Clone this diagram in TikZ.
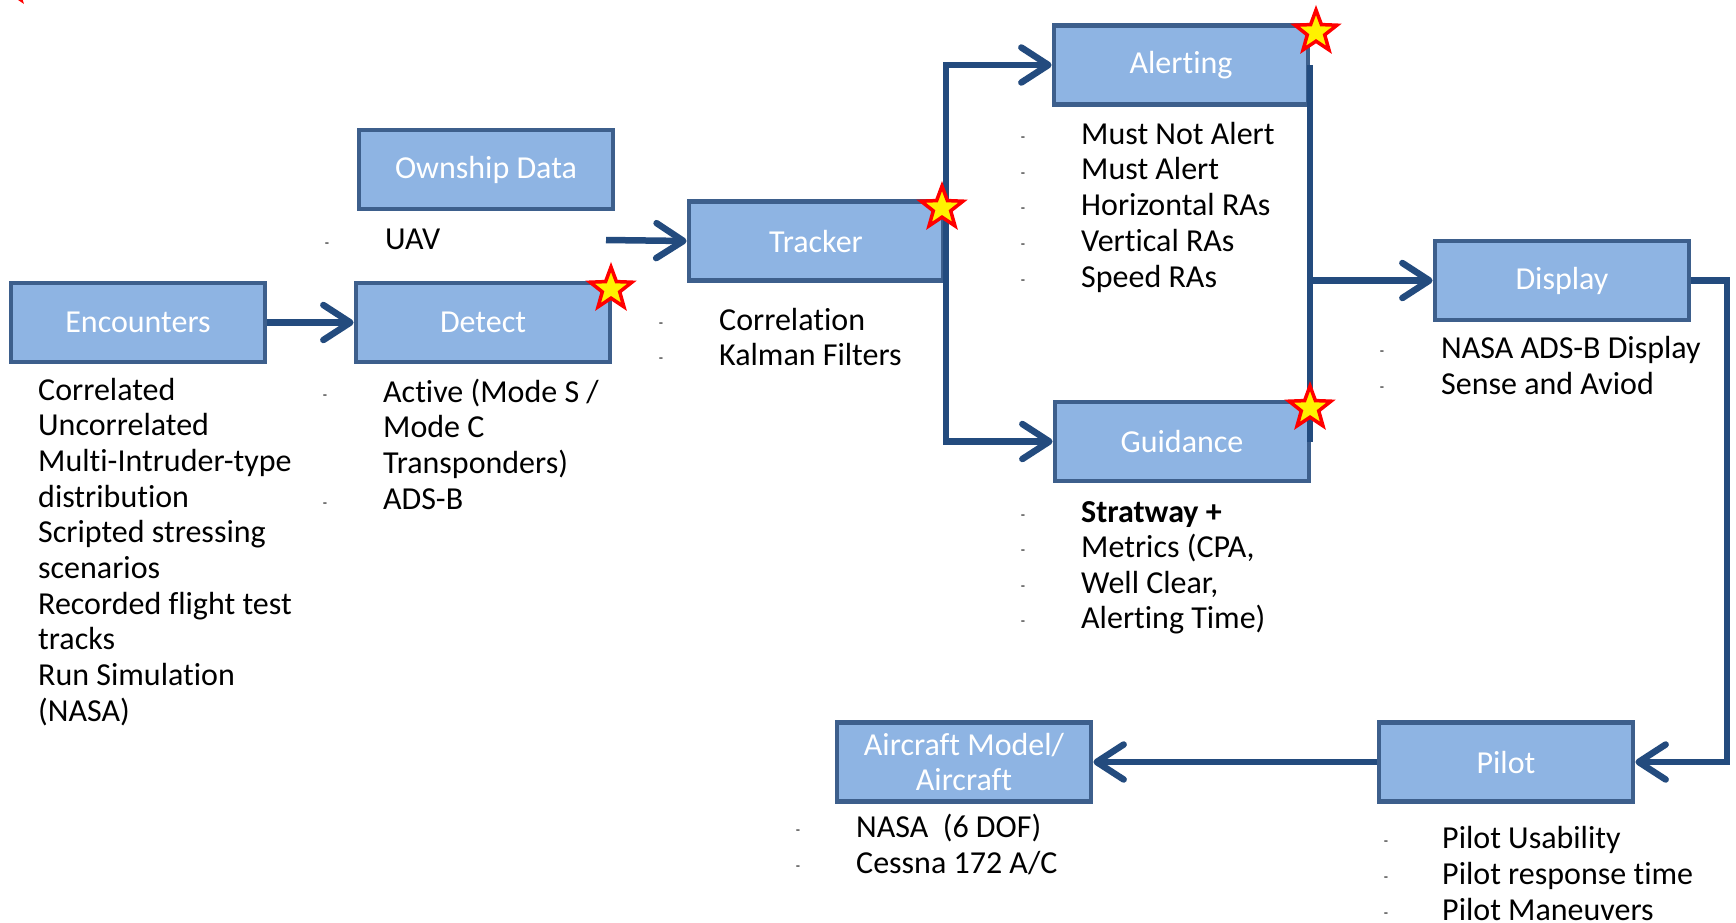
\documentclass[tikz,border=0pt]{standalone}
\usepackage{fontspec}
\setmainfont{Carlito}[Ligatures=NoCommon]
\usetikzlibrary{arrows.meta,shapes.geometric}
\definecolor{boxfill}{HTML}{8EB4E3}
\definecolor{boxline}{HTML}{3D5F8C}
\definecolor{arrowblue}{HTML}{234B7E}
\begin{document}
\begin{tikzpicture}[x=1pt,y=-1pt,
 box/.style={draw=boxline, fill=boxfill, line width=4.8pt, minimum width=254pt, minimum height=79pt, inner sep=0pt, text=white, font=\fontsize{32}{35.5}\selectfont, align=center},
 lst/.style={anchor=base west, inner sep=0pt, font=\fontsize{32}{35.7}\selectfont},
 bul/.style={inner sep=0pt, font=\fontsize{14}{14}\selectfont},
 conn/.style={draw=arrowblue, line width=6.5pt},
 arr/.style={conn, -{Straight Barb[length=27pt,width=35pt,round]}},
 starmark/.style={star, star points=5, star point ratio=2.4, minimum size=44pt, inner sep=0pt, fill=yellow, draw=red, line width=3.5pt}]
\useasboundingbox (0,0) rectangle (1736,922);
\fill[white] (0,0) rectangle (1736,922);

% boxes
\node[box] (enc) at (138,322.5) {Encounters};
\node[box] (own) at (486,169.5) {Ownship Data};
\node[box] (det) at (483,322.5) {Detect};
\node[box] (trk) at (816,241) {Tracker};
\node[box] (alr) at (1181,65) {Alerting};
\node[box] (gui) at (1182,441.5) {Guidance};
\node[box] (dsp) at (1562,280.5) {Display};
\node[box] (plt) at (1506,762) {Pilot};
\node[box] (acm) at (964,762) {Aircraft Model/\\Aircraft};

% lists
\foreach \t [count=\i] in {Correlated, Uncorrelated, Multi-Intruder-type, distribution, Scripted stressing, scenarios, Recorded flight test, tracks, Run Simulation, (NASA)}
  \node[lst] (encl\i) at (38,{400+35.7*(\i-1)}) {\t};

\node[bul] (ownb1) at (327,245) {-};
\node[lst] (ownl1) at (385,249) {UAV};

\node[bul] (detb1) at (325,397) {-};
\node[bul] (detb4) at (325,505) {-};
\foreach \t [count=\i] in {Active (Mode S /, Mode C, Transponders), ADS-B}
  \node[lst] (detl\i) at (383,{402+35.7*(\i-1)}) {\t};

\foreach \t [count=\i] in {Correlation, Kalman Filters}{
  \node[bul] (trkb\i) at (661,{325+35.7*(\i-1)}) {-};
  \node[lst] (trkl\i) at (719,{330+35.7*(\i-1)}) {\t};
}

\foreach \t [count=\i] in {Must Not Alert, Must Alert, Horizontal RAs, Vertical RAs, Speed RAs}{
  \node[bul] (alrb\i) at (1023,{139+35.8*(\i-1)}) {-};
  \node[lst] (alrl\i) at (1081,{144+35.8*(\i-1)}) {\t};
}

\foreach \t [count=\i] in {{\textbf{Stratway +}}, {Metrics (CPA,}, {Well Clear,}, {Alerting Time)}}{
  \node[bul] (guib\i) at (1023,{517+35.5*(\i-1)}) {-};
  \node[lst] (guil\i) at (1081,{522+35.5*(\i-1)}) {\t};
}

\foreach \t [count=\i] in {NASA ADS-B Display, Sense and Aviod}{
  \node[bul] (dspb\i) at (1382,{353+36.5*(\i-1)}) {-};
  \node[lst] (dspl\i) at (1441,{358+36.5*(\i-1)}) {\t};
}

\foreach \t [count=\i] in {NASA~~(6 DOF), Cessna 172 A/C}{
  \node[bul] (acmb\i) at (798,{832+36*(\i-1)}) {-};
  \node[lst] (acml\i) at (856,{837+36*(\i-1)}) {\t};
}

\foreach \t [count=\i] in {Pilot Usability, Pilot response time, Pilot Maneuvers}{
  \node[bul] (pltb\i) at (1386,{843+36*(\i-1)}) {-};
  \node[lst] (pltl\i) at (1442,{848+36*(\i-1)}) {\t};
}

% connectors
\coordinate (uav) at (606,240);
\coordinate (tj) at (946,241);
\coordinate (aj) at (1310,280.5);
\coordinate (dj) at (1727,280.5);

\draw[arr] (enc.east) -- (det.west);
\draw[arr] (uav) -- (trk.west);
\draw[conn] (tj |- alr.west) -- (tj |- gui.west);
\draw[arr] (tj) |- (alr.west);
\draw[arr] (tj) |- (gui.west);
\draw[conn] (aj |- alr.east) -- (aj |- gui.east);
\draw[arr] (aj) -- (dsp.west);
\draw[arr] (dsp.east) -- (dj) |- (plt.east);
\draw[arr] (plt.west) -- (acm.east);

% stars
\node[starmark] (s0) at (8,-18) {};
\node[starmark] (s1) at (611,289) {};
\node[starmark] (s2) at (942,208) {};
\node[starmark] (s3) at (1316,32) {};
\node[starmark] (s4) at (1310,408) {};
\end{tikzpicture}
\end{document}
